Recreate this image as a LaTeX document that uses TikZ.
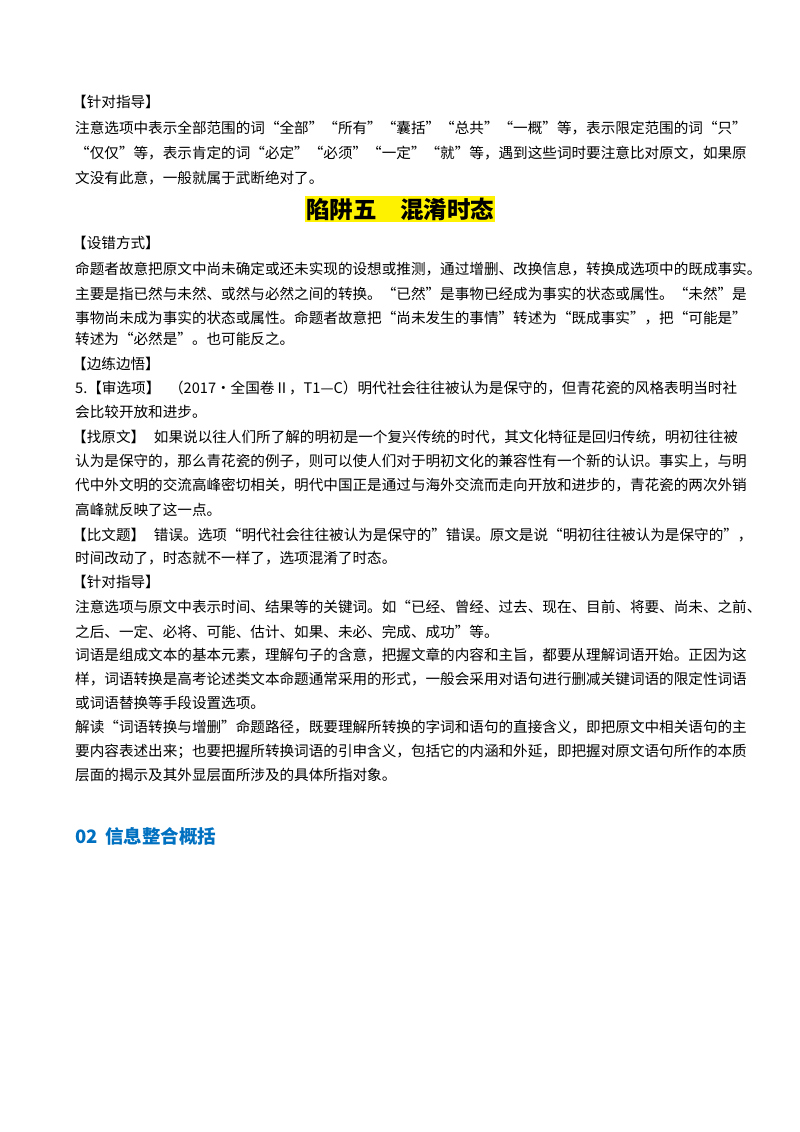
\documentclass[tikz,border=0pt]{standalone}
\usepackage{fontspec}
\setmainfont{Noto Sans CJK SC}
\definecolor{hblue}{RGB}{0,112,192}
\tikzset{body/.style={anchor=west,inner sep=0pt,font=\fontsize{14.6}{16}\selectfont},
title/.style={inner xsep=1pt,inner ysep=2pt,fill=yellow,font=\fontsize{23.5}{26}\selectfont\bfseries},
head/.style={anchor=west,inner sep=0pt,text=hblue,font=\fontsize{18.5}{20}\selectfont\bfseries}}
\begin{document}
\begin{tikzpicture}[x=1pt,y=-1pt]
\useasboundingbox (0,0) rectangle (800,1132);
\node[body] (l1) at (72,102) {【针对指导】};
\node[body] (l2) at (75,128) {注意选项中表示全部范围的词“全部”“所有”“囊括”“总共”“一概”等，表示限定范围的词“只”};
\node[body] (l3) at (75,153) {“仅仅”等，表示肯定的词“必定”“必须”“一定”“就”等，遇到这些词时要注意比对原文，如果原};
\node[body] (l4) at (75,178) {文没有此意，一般就属于武断绝对了。};
\node[title] (t) at (400,209) {陷阱五\hspace{1em}混淆时态};
\node[body] (l5) at (72,243) {【设错方式】};
\node[body] (l6) at (75,269) {命题者故意把原文中尚未确定或还未实现的设想或推测，通过增删、改换信息，转换成选项中的既成事实。};
\node[body] (l7) at (75,294) {主要是指已然与未然、或然与必然之间的转换。“已然”是事物已经成为事实的状态或属性。“未然”是};
\node[body] (l8) at (75,318) {事物尚未成为事实的状态或属性。命题者故意把“尚未发生的事情”转述为“既成事实”，把“可能是”};
\node[body] (l9) at (75,339) {转述为“必然是”。也可能反之。};
\node[body] (l10) at (72,364) {【边练边悟】};
\node[body] (l11) at (75,388) {5.【审选项】\hspace{0.6em}（2017·全国卷Ⅱ，T1—C）明代社会往往被认为是保守的，但青花瓷的风格表明当时社};
\node[body] (l12) at (75,412) {会比较开放和进步。};
\node[body] (l13) at (72,437) {【找原文】\hspace{0.6em}如果说以往人们所了解的明初是一个复兴传统的时代，其文化特征是回归传统，明初往往被};
\node[body] (l14) at (75,461) {认为是保守的，那么青花瓷的例子，则可以使人们对于明初文化的兼容性有一个新的认识。事实上，与明};
\node[body] (l15) at (75,485) {代中外文明的交流高峰密切相关，明代中国正是通过与海外交流而走向开放和进步的，青花瓷的两次外销};
\node[body] (l16) at (75,510) {高峰就反映了这一点。};
\node[body] (l17) at (72,535) {【比文题】\hspace{0.6em}错误。选项“明代社会往往被认为是保守的”错误。原文是说“明初往往被认为是保守的”，};
\node[body] (l18) at (75,558) {时间改动了，时态就不一样了，选项混淆了时态。};
\node[body] (l19) at (72,582) {【针对指导】};
\node[body] (l20) at (75,607) {注意选项与原文中表示时间、结果等的关键词。如“已经、曾经、过去、现在、目前、将要、尚未、之前、};
\node[body] (l21) at (75,632) {之后、一定、必将、可能、估计、如果、未必、完成、成功”等。};
\node[body] (l22) at (75,655) {词语是组成文本的基本元素，理解句子的含意，把握文章的内容和主旨，都要从理解词语开始。正因为这};
\node[body] (l23) at (75,679) {样，词语转换是高考论述类文本命题通常采用的形式，一般会采用对语句进行删减关键词语的限定性词语};
\node[body] (l24) at (75,703) {或词语替换等手段设置选项。};
\node[body] (l25) at (75,727) {解读“词语转换与增删”命题路径，既要理解所转换的字词和语句的直接含义，即把原文中相关语句的主};
\node[body] (l26) at (75,751) {要内容表述出来；也要把握所转换词语的引申含义，包括它的内涵和外延，即把握对原文语句所作的本质};
\node[body] (l27) at (75,775) {层面的揭示及其外显层面所涉及的具体所指对象。};
\node[head] (h) at (75,836) {02\hspace{0.4em}信息整合概括};
\end{tikzpicture}
\end{document}
